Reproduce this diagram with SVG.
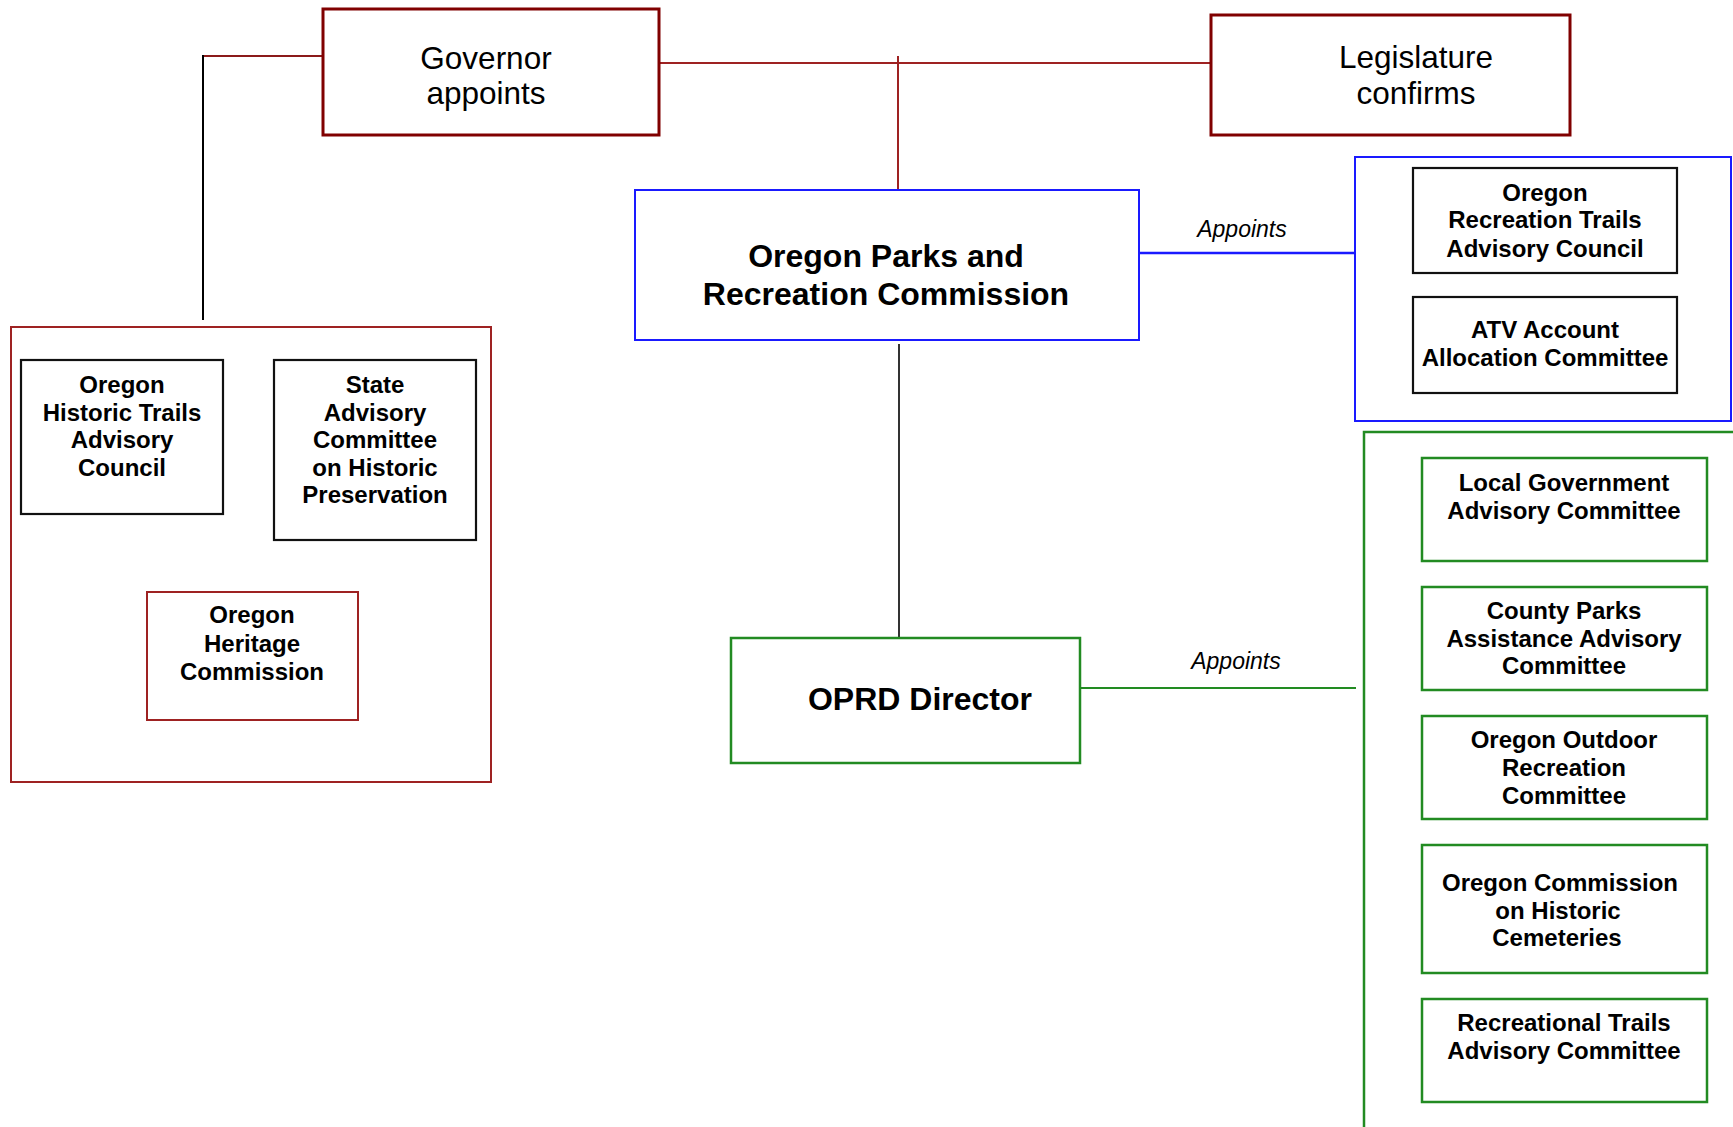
<svg xmlns="http://www.w3.org/2000/svg" width="1733" height="1127" viewBox="0 0 1733 1127">
<style>
text{font-family:"Liberation Sans",Arial,sans-serif;fill:#000;text-anchor:middle}
.big{font-size:31.5px}
.b{font-weight:bold;font-size:24px}
.bc{font-weight:bold;font-size:32px}
.lbl{font-style:italic;font-size:23px}
.red{fill:#fff;stroke:#800000;stroke-width:3}
.red2{fill:none;stroke:#9e2222;stroke-width:2}
.blue{fill:#fff;stroke:#1a1aff;stroke-width:2}
.green{fill:#fff;stroke:#228b22;stroke-width:2.5}
.blk{fill:#fff;stroke:#111;stroke-width:2.2}
</style>
<rect width="1733" height="1127" fill="#fff"/>
<g id="connectors" fill="none">
<polyline points="323,56 203,56" stroke="#8b1a1a" stroke-width="2"/>
<line x1="203" y1="55" x2="203" y2="320" stroke="#000" stroke-width="2"/>
<line x1="659" y1="63" x2="1211" y2="63" stroke="#9e2222" stroke-width="2"/>
<line x1="898" y1="56" x2="898" y2="190" stroke="#9e2222" stroke-width="2"/>
<line x1="1139" y1="253" x2="1355" y2="253" stroke="#1a1aff" stroke-width="2.5"/>
<line x1="899" y1="344" x2="899" y2="642" stroke="#333" stroke-width="2"/>
<line x1="1080" y1="688" x2="1356" y2="688" stroke="#228b22" stroke-width="2"/>
<polyline points="1733,432 1364,432 1364,1127" stroke="#228b22" stroke-width="2.5"/>
<text class="lbl" x="1242" y="237">Appoints</text>
<text class="lbl" x="1236" y="669">Appoints</text>
</g>
<g id="governor">
<rect class="red" x="323" y="9" width="336" height="126"/>
<text class="big" x="486" y="69">Governor</text>
<text class="big" x="486" y="104">appoints</text>
</g>
<g id="legislature">
<rect class="red" x="1211" y="15" width="359" height="120"/>
<text class="big" x="1416" y="68">Legislature</text>
<text class="big" x="1416" y="104">confirms</text>
</g>
<g id="commission">
<rect class="blue" x="635" y="190" width="504" height="150"/>
<text class="bc" x="886" y="267">Oregon Parks and</text>
<text class="bc" x="886" y="305">Recreation Commission</text>
</g>
<g id="blue-group">
<rect class="blue" x="1355" y="157" width="376" height="264"/>
</g>
<g id="ortac">
<rect class="blk" x="1413" y="168" width="264" height="105"/>
<text class="b" x="1545" y="201">Oregon</text>
<text class="b" x="1545" y="228">Recreation Trails</text>
<text class="b" x="1545" y="257">Advisory Council</text>
</g>
<g id="atv">
<rect class="blk" x="1413" y="297" width="264" height="96"/>
<text class="b" x="1545" y="338">ATV Account</text>
<text class="b" x="1545" y="366">Allocation Committee</text>
</g>
<g id="gov-group">
<rect class="red2" x="11" y="327" width="480" height="455"/>
</g>
<g id="ohtac">
<rect class="blk" x="21" y="360" width="202" height="154"/>
<text class="b" x="122" y="393">Oregon</text>
<text class="b" x="122" y="421">Historic Trails</text>
<text class="b" x="122" y="448">Advisory</text>
<text class="b" x="122" y="476">Council</text>
</g>
<g id="sachp">
<rect class="blk" x="274" y="360" width="202" height="180"/>
<text class="b" x="375" y="393">State</text>
<text class="b" x="375" y="421">Advisory</text>
<text class="b" x="375" y="448">Committee</text>
<text class="b" x="375" y="476">on Historic</text>
<text class="b" x="375" y="503">Preservation</text>
</g>
<g id="ohc">
<rect class="red2" x="147" y="592" width="211" height="128"/>
<text class="b" x="252" y="623">Oregon</text>
<text class="b" x="252" y="652">Heritage</text>
<text class="b" x="252" y="680">Commission</text>
</g>
<g id="director">
<rect class="green" x="731" y="638" width="349" height="125" stroke-width="2"/>
<text class="bc" x="920" y="710" style="font-size:32px">OPRD Director</text>
</g>
<g id="lgac">
<rect class="green" x="1422" y="458" width="285" height="103"/>
<text class="b" x="1564" y="491">Local Government</text>
<text class="b" x="1564" y="519">Advisory Committee</text>
</g>
<g id="cpaac">
<rect class="green" x="1422" y="587" width="285" height="103"/>
<text class="b" x="1564" y="619">County Parks</text>
<text class="b" x="1564" y="647">Assistance Advisory</text>
<text class="b" x="1564" y="674">Committee</text>
</g>
<g id="oorc">
<rect class="green" x="1422" y="716" width="285" height="103"/>
<text class="b" x="1564" y="748">Oregon Outdoor</text>
<text class="b" x="1564" y="776">Recreation</text>
<text class="b" x="1564" y="804">Committee</text>
</g>
<g id="ochc">
<rect class="green" x="1422" y="845" width="285" height="128"/>
<text class="b" x="1560" y="891">Oregon Commission</text>
<text class="b" x="1558" y="919">on Historic</text>
<text class="b" x="1557" y="946">Cemeteries</text>
</g>
<g id="rtac">
<rect class="green" x="1422" y="999" width="285" height="103"/>
<text class="b" x="1564" y="1031">Recreational Trails</text>
<text class="b" x="1564" y="1059">Advisory Committee</text>
</g>
</svg>
